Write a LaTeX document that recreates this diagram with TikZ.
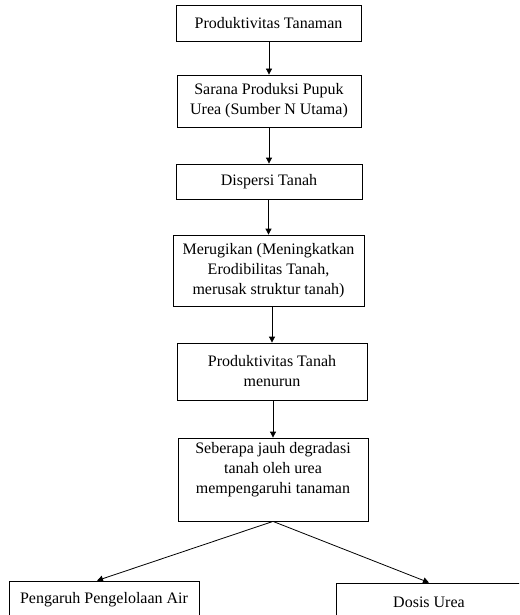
\documentclass[tikz,border=0pt]{standalone}
\usepackage{fontspec}
\setmainfont{Liberation Serif}
\usetikzlibrary{arrows.meta}

\begin{document}
\begin{tikzpicture}[x=1pt,y=-1pt,
  box/.style={draw,line width=0.8pt,inner sep=0pt,align=center,font=\fontsize{16}{20}\selectfont},
  arr/.style={line width=0.8pt,-{Triangle[length=6pt,width=6pt]}}]
\useasboundingbox (0,0) rectangle (519,615);
\clip (0,0) rectangle (519,615);
\node[box,minimum width=185pt,minimum height=36pt] (prodtan) at (268.5,23) {Produktivitas Tanaman};
\node[box,minimum width=184pt,minimum height=52pt] (sarana) at (269,101) {Sarana Produksi Pupuk\\Urea (Sumber N Utama)};
\node[box,minimum width=186pt,minimum height=35pt] (dispersi) at (269,181.5) {Dispersi Tanah};
\node[box,minimum width=191pt,minimum height=71pt] (rugi) at (268.5,270.5) {Merugikan (Meningkatkan\\Erodibilitas Tanah,\\merusak struktur tanah)};
\node[box,minimum width=190pt,minimum height=57pt] (turun) at (272,371.5) {Produktivitas Tanah\\menurun};
\node[box,minimum width=190pt,minimum height=83pt] (degradasi) at (273,479.5) {Seberapa jauh degradasi\\tanah oleh urea\\mempengaruhi tanaman\\[4pt]};
\node[box,minimum width=190pt,minimum height=38pt] (air) at (104,600) {Pengaruh Pengelolaan Air};
\node[box,minimum width=186pt,minimum height=38pt] (dosis) at (429,602) {Dosis Urea};
% panah
\draw[arr] (prodtan.south -| sarana.north) -- (sarana.north);
\draw[arr] (sarana.south -| dispersi.north) -- (dispersi.north);
\draw[arr] (dispersi.south -| rugi.north) -- (rugi.north);
\draw[arr] (rugi.south -| turun.north) -- (turun.north);
\draw[arr] (turun.south -| degradasi.north) -- (degradasi.north);
\draw[arr] (degradasi.south) -- ([xshift=-7pt]air.north);
\draw[arr] (degradasi.south) -- (dosis.north);
\end{tikzpicture}
\end{document}
